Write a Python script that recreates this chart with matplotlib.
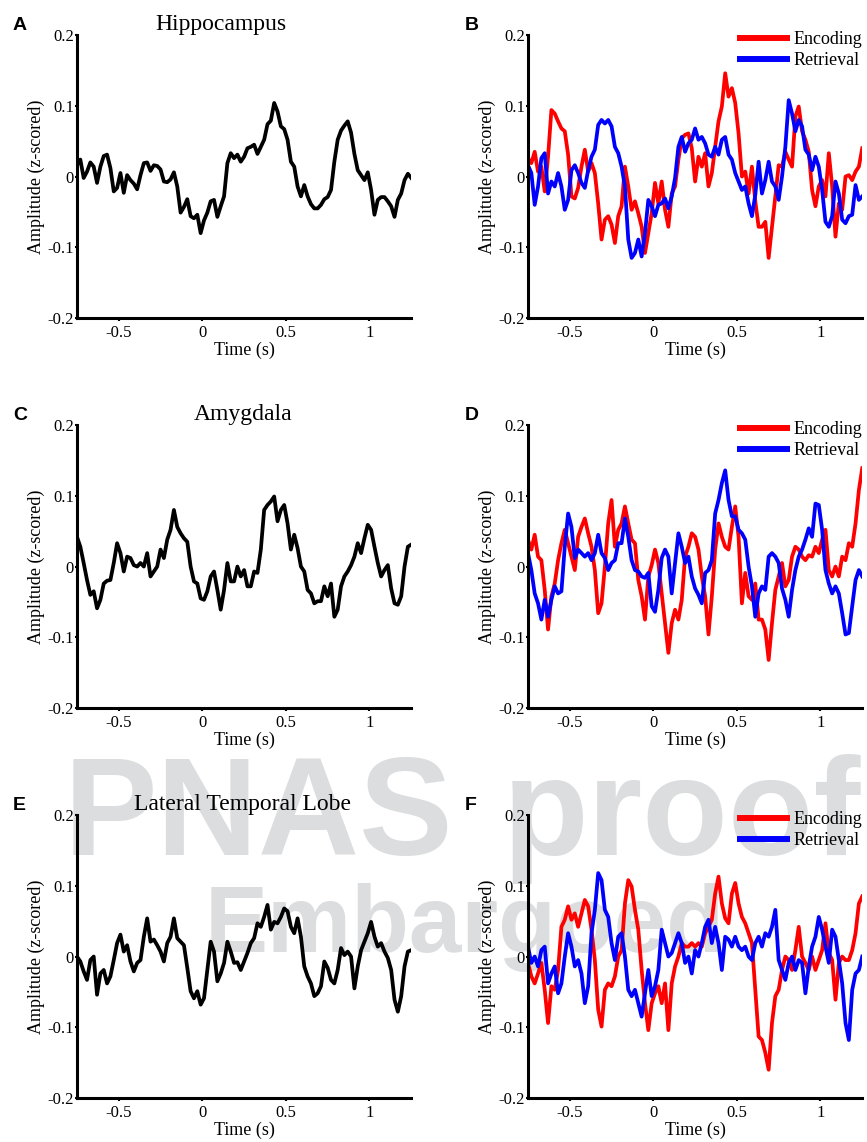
# -*- coding: utf-8 -*-
"""
Evoked amplitude (z-scored) in Hippocampus, Amygdala and Lateral Temporal
Lobe: overall average (left) and Encoding vs Retrieval (right).
"""

import numpy as np
import matplotlib
matplotlib.use('Agg')
import matplotlib.pyplot as plt

plt.rcParams.update({'font.family': 'Liberation Serif'})
plt.rcParams.update({'axes.unicode_minus': False})

#==============================================================================
# Data (20 ms steps)
#==============================================================================
time_s = np.round(np.arange(-0.75, 1.2501, 0.02), 2)

hippo_all = [0.016, 0.024, -0.002, 0.007, 0.020, 0.014, -0.009, 0.014, 0.029, 0.031,
             0.012, -0.021, -0.016, 0.005, -0.023, 0.002, -0.005, -0.010, -0.018, 0.002,
             0.019, 0.020, 0.008, 0.016, 0.015, 0.010, -0.007, -0.008, -0.004, 0.006,
             -0.014, -0.051, -0.043, -0.032, -0.056, -0.059, -0.054, -0.080, -0.062, -0.051,
             -0.035, -0.033, -0.057, -0.042, -0.028, 0.019, 0.033, 0.026, 0.031, 0.021,
             0.028, 0.040, 0.042, 0.045, 0.032, 0.042, 0.052, 0.074, 0.079, 0.104,
             0.092, 0.071, 0.067, 0.052, 0.021, 0.014, -0.014, -0.028, -0.012, -0.028,
             -0.039, -0.045, -0.045, -0.040, -0.032, -0.029, -0.019, 0.021, 0.052, 0.065,
             0.072, 0.078, 0.062, 0.032, 0.009, 0.002, -0.005, 0.006, -0.019, -0.054,
             -0.033, -0.029, -0.029, -0.035, -0.042, -0.057, -0.033, -0.024, -0.005, 0.004,
             -0.002]

amyg_all = [0.042, 0.028, 0.005, -0.019, -0.040, -0.035, -0.059, -0.047, -0.024, -0.020,
            -0.019, 0.005, 0.033, 0.019, -0.007, 0.014, 0.012, 0.002, 0.0, 0.005,
            0.0, 0.019, -0.014, -0.007, 0.0, 0.024, 0.012, 0.038, 0.052, 0.080,
            0.056, 0.047, 0.040, 0.035, 0.0, -0.021, -0.024, -0.045, -0.047, -0.035,
            -0.014, -0.007, -0.033, -0.061, -0.033, 0.005, -0.021, -0.021, 0.0, -0.014,
            -0.005, -0.028, -0.028, -0.007, -0.009, 0.024, 0.080, 0.087, 0.092, 0.099,
            0.064, 0.080, 0.087, 0.061, 0.024, 0.045, 0.026, 0.0, -0.007, -0.033,
            -0.038, -0.052, -0.049, -0.049, -0.028, -0.042, -0.024, -0.071, -0.061, -0.028,
            -0.014, -0.007, 0.002, 0.014, 0.033, 0.019, 0.040, 0.059, 0.052, 0.028,
            0.005, -0.014, -0.005, 0.002, -0.031, -0.052, -0.054, -0.042, 0.0, 0.028,
            0.031]

ltl_all = [0.0, -0.007, -0.021, -0.033, -0.005, 0.0, -0.054, -0.024, -0.019, -0.038,
           -0.028, -0.005, 0.019, 0.031, 0.007, 0.016, -0.007, -0.021, -0.009, -0.005,
           0.028, 0.054, 0.021, 0.024, 0.016, 0.007, -0.007, 0.019, 0.028, 0.054,
           0.026, 0.021, 0.016, -0.016, -0.049, -0.059, -0.049, -0.068, -0.059, -0.019,
           0.021, 0.007, -0.035, -0.024, -0.009, 0.021, 0.007, -0.009, -0.008, -0.019,
           -0.007, 0.005, 0.019, 0.026, 0.047, 0.042, 0.056, 0.073, 0.038, 0.049,
           0.047, 0.056, 0.068, 0.064, 0.042, 0.033, 0.054, 0.028, -0.014, -0.028,
           -0.038, -0.056, -0.052, -0.042, -0.007, -0.016, -0.033, -0.038, -0.019, 0.012,
           0.002, 0.007, 0.0, -0.045, -0.014, 0.009, 0.021, 0.033, 0.049, 0.028,
           0.014, 0.019, 0.007, -0.002, -0.019, -0.061, -0.078, -0.056, -0.014, 0.007,
           0.009]

hippo_enc = [0.026, 0.019, 0.035, 0.007, 0.014, -0.021, 0.028, 0.094, 0.089, 0.078,
             0.068, 0.064, 0.031, -0.028, -0.031, -0.016, 0.014, 0.038, 0.007, 0.019,
             0.005, -0.038, -0.089, -0.061, -0.056, -0.068, -0.094, -0.056, -0.042, 0.014,
             -0.014, -0.047, -0.035, -0.052, -0.071, -0.108, -0.080, -0.052, -0.009, -0.038,
             -0.007, -0.047, -0.071, -0.024, -0.014, 0.024, 0.054, 0.059, 0.061, 0.040,
             -0.007, 0.028, 0.014, 0.033, -0.014, 0.005, 0.042, 0.078, 0.099, 0.146,
             0.113, 0.125, 0.104, 0.061, 0.0, 0.007, -0.024, 0.014, -0.035, -0.071,
             -0.071, -0.064, -0.115, -0.071, -0.028, 0.016, 0.014, 0.035, 0.024, 0.014,
             0.085, 0.099, 0.064, 0.052, 0.035, -0.019, -0.042, -0.014, -0.005, -0.028,
             0.033, -0.014, -0.085, -0.038, -0.047, 0.0, 0.002, -0.005, 0.007, 0.014,
             0.040]

hippo_ret = [0.016, 0.005, -0.040, -0.014, 0.026, 0.033, -0.024, -0.007, -0.014, 0.005,
             -0.014, -0.047, -0.033, 0.009, 0.016, 0.005, -0.009, -0.016, 0.009, 0.028,
             0.038, 0.073, 0.080, 0.075, 0.080, 0.071, 0.042, 0.033, 0.014, -0.014,
             -0.089, -0.115, -0.108, -0.089, -0.113, -0.080, -0.033, -0.042, -0.056, -0.040,
             -0.038, -0.031, -0.045, -0.028, -0.002, 0.042, 0.056, 0.035, 0.047, 0.052,
             0.068, 0.052, 0.056, 0.047, 0.031, 0.028, 0.042, 0.031, 0.052, 0.056,
             0.031, 0.024, 0.005, -0.007, -0.019, -0.014, -0.038, -0.056, -0.026, 0.021,
             -0.024, -0.005, 0.021, -0.007, -0.014, -0.033, 0.0, 0.042, 0.108, 0.089,
             0.064, 0.080, 0.071, 0.038, 0.031, 0.009, 0.028, 0.014, -0.019, -0.064,
             -0.071, -0.056, -0.007, -0.024, -0.061, -0.066, -0.056, -0.054, -0.012, -0.033,
             -0.028]

amyg_enc = [0.038, 0.024, 0.045, 0.014, 0.009, -0.033, -0.089, -0.042, -0.024, 0.009,
            0.033, 0.052, 0.033, 0.014, -0.005, 0.042, 0.056, 0.068, 0.047, 0.028,
            -0.005, -0.066, -0.052, 0.0, 0.061, 0.094, 0.028, 0.052, 0.061, 0.085,
            0.061, 0.038, 0.033, -0.019, -0.042, -0.075, -0.014, 0.002, 0.024, 0.005,
            -0.038, -0.080, -0.122, -0.080, -0.061, -0.075, -0.047, 0.014, 0.028, 0.047,
            0.042, 0.024, -0.014, -0.042, -0.096, -0.042, 0.024, 0.061, 0.042, 0.028,
            0.024, 0.056, 0.085, 0.042, -0.052, -0.009, -0.042, -0.047, -0.024, -0.075,
            -0.075, -0.089, -0.132, -0.080, -0.033, -0.014, 0.005, -0.028, -0.019, 0.014,
            0.028, 0.024, 0.014, 0.009, 0.016, 0.014, 0.028, 0.019, 0.038, 0.052,
            -0.005, -0.014, 0.0, -0.014, 0.014, 0.009, 0.033, 0.028, 0.061, 0.108,
            0.139]

amyg_ret = [0.019, -0.005, -0.038, -0.052, -0.075, -0.047, -0.071, -0.047, -0.028, -0.038,
            -0.035, 0.028, 0.075, 0.056, 0.012, 0.024, 0.019, 0.014, 0.019, 0.009,
            0.019, 0.045, 0.019, 0.012, -0.005, 0.005, 0.009, 0.033, 0.033, 0.068,
            0.042, 0.009, -0.005, -0.007, -0.014, -0.016, -0.009, -0.056, -0.064, -0.033,
            0.012, 0.024, 0.014, -0.038, 0.005, 0.047, 0.028, 0.005, 0.014, -0.014,
            -0.031, -0.040, -0.052, -0.009, -0.005, 0.009, 0.075, 0.094, 0.118, 0.136,
            0.094, 0.071, 0.071, 0.052, 0.047, 0.038, 0.0, -0.028, -0.071, -0.038,
            -0.028, -0.033, 0.014, 0.019, 0.014, 0.005, -0.031, -0.047, -0.071, -0.033,
            -0.005, 0.014, 0.024, 0.038, 0.054, 0.042, 0.089, 0.087, 0.052, -0.005,
            -0.024, -0.038, -0.028, -0.038, -0.066, -0.096, -0.094, -0.056, -0.019, -0.005,
            -0.014]

ltl_enc = [-0.009, -0.028, -0.038, -0.024, -0.009, -0.047, -0.094, -0.042, -0.047, -0.019,
           0.042, 0.052, 0.071, 0.052, 0.061, 0.042, 0.061, 0.080, 0.071, 0.038,
           -0.005, -0.075, -0.099, -0.047, -0.038, -0.042, -0.028, 0.0, 0.009, 0.075,
           0.108, 0.099, 0.066, 0.038, -0.019, -0.066, -0.104, -0.066, -0.052, -0.042,
           -0.066, -0.038, -0.104, -0.038, -0.014, 0.0, 0.019, 0.014, 0.014, 0.019,
           0.014, 0.019, 0.014, 0.033, 0.042, 0.052, 0.089, 0.113, 0.075, 0.054,
           0.047, 0.089, 0.104, 0.075, 0.056, 0.047, 0.033, 0.019, -0.047, -0.113,
           -0.118, -0.136, -0.160, -0.094, -0.056, -0.047, -0.019, 0.0, -0.005, -0.019,
           0.009, 0.042, 0.0, -0.009, -0.019, 0.0, -0.019, -0.005, 0.009, 0.047,
           0.005, -0.005, -0.061, -0.009, 0.0, -0.005, -0.005, 0.009, 0.033, 0.075,
           0.085]

ltl_ret = [0.014, -0.009, 0.0, -0.014, 0.009, 0.014, -0.038, -0.024, -0.014, -0.052,
           -0.038, 0.0, 0.033, 0.014, -0.014, -0.005, -0.024, -0.066, -0.042, 0.033,
           0.066, 0.118, 0.108, 0.066, 0.056, 0.019, -0.005, 0.028, 0.033, 0.0,
           -0.047, -0.056, -0.047, -0.066, -0.085, -0.052, -0.019, -0.056, -0.042, -0.019,
           0.038, 0.019, 0.0, 0.005, 0.019, 0.033, 0.019, -0.009, 0.0, -0.024,
           0.009, 0.0, 0.019, 0.042, 0.052, 0.019, 0.042, 0.019, -0.019, 0.028,
           0.024, 0.014, 0.028, 0.014, 0.009, 0.014, 0.0, -0.005, 0.019, 0.028,
           0.014, 0.033, 0.028, 0.042, 0.066, -0.005, -0.019, -0.033, -0.009, 0.0,
           -0.019, -0.005, -0.009, -0.052, -0.014, 0.014, 0.028, 0.056, 0.038, 0.014,
           -0.009, 0.038, 0.028, -0.005, -0.038, -0.094, -0.118, -0.047, -0.024, -0.019,
           0.0]

regions = ['Hippocampus', 'Amygdala', 'Lateral Temporal Lobe']
title_x = [0.43, 0.497, 0.495]
all_trials = [hippo_all, amyg_all, ltl_all]
enc_trials = [hippo_enc, amyg_enc, ltl_enc]
ret_trials = [hippo_ret, amyg_ret, ltl_ret]
panel_letters = [('A', 'B'), ('C', 'D'), ('E', 'F')]

x_ticks = [-0.5, 0, 0.5, 1]
x_tick_labels = ['-0.5', '0', '0.5', '1']
y_ticks = [-0.2, -0.1, 0, 0.1, 0.2]
y_tick_labels = ['-0.2', '-0.1', '0', '0.1', '0.2']

#==============================================================================
#
#==============================================================================


def style_axis(ax):
    ''' only left/bottom spines, thick, with short outward ticks '''
    ax.set_facecolor('none')
    for side in ['top', 'right']:
        ax.spines[side].set_visible(False)
    for side in ['left', 'bottom']:
        ax.spines[side].set_linewidth(2.2)
    ax.set_xlim(-0.75, 1.25)
    ax.set_ylim(-0.2, 0.2)
    ax.set_xticks(x_ticks)
    ax.set_xticklabels(x_tick_labels)
    ax.set_yticks(y_ticks)
    ax.set_yticklabels(y_tick_labels)
    ax.tick_params(axis='both', direction='out', length=1.8, width=1.5,
                   labelsize=12)
    ax.tick_params(axis='y', pad=0.5)
    ax.tick_params(axis='x', pad=3)
    ax.set_xlabel('Time (s)', fontsize=13, labelpad=1)
    ax.set_ylabel('Amplitude (z-scored)', fontsize=13, labelpad=2)


fig = plt.figure(figsize=(8.67, 11.42), dpi=100)

# watermark, behind everything
wm_style = dict(family='Liberation Sans', fontweight='bold', color='#dcdddf',
                ha='left', va='baseline', zorder=-10)
fig.text(64 / 867., 1 - 855 / 1142., 'PNAS', fontsize=101, **wm_style)
fig.text(503 / 867., 1 - 855 / 1142., 'proof', fontsize=101, **wm_style)
fig.text(205 / 867., 1 - 952 / 1142., 'Embargoed', fontsize=68, **wm_style)

row_bottoms = [0.7215, 0.380, 0.0385]
col_lefts = [0.0888, 0.609]
ax_w, ax_h = 0.3855, 0.2478
letter_base_px = [30, 420, 810]

for i, region in enumerate(regions):
    ax0 = fig.add_axes([col_lefts[0], row_bottoms[i], ax_w, ax_h])
    ax1 = fig.add_axes([col_lefts[1], row_bottoms[i], ax_w, ax_h])

    ax0.plot(time_s, all_trials[i], color='k', linewidth=2.7)
    ax0.set_title(region, fontsize=17, x=title_x[i], pad=2)

    ax1.plot(time_s, enc_trials[i], color='#ff0000', linewidth=2.7,
             label='Encoding')
    ax1.plot(time_s, ret_trials[i], color='#0000ff', linewidth=2.7,
             label='Retrieval')
    leg = ax1.legend(frameon=False, loc='upper right',
                     bbox_to_anchor=(1.0, 1.014), borderaxespad=0,
                     borderpad=0, handlelength=2.6, handletextpad=0.35,
                     labelspacing=0.23, fontsize=13)
    for line in leg.get_lines():
        line.set_linewidth(4.3)

    style_axis(ax0)
    style_axis(ax1)

    y_txt = 1 - letter_base_px[i] / 1142.
    fig.text(13 / 867., y_txt, panel_letters[i][0], family='Liberation Sans',
             fontweight='bold', fontsize=14, va='baseline')
    fig.text(465 / 867., y_txt, panel_letters[i][1], family='Liberation Sans',
             fontweight='bold', fontsize=14, va='baseline')

plt.savefig('out.png', dpi=100)
plt.close()
